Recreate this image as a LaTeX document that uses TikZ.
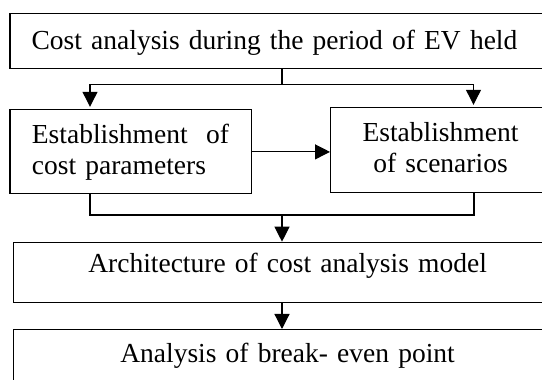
\documentclass[tikz,border=0pt]{standalone}
\usepackage{fontspec}
\setmainfont{Liberation Serif}
\usepackage{tikz}
\usetikzlibrary{arrows.meta, positioning, calc}

\begin{document}
\begin{tikzpicture}[
      x=1pt, y=1pt,
      box/.style={
          draw,
          rectangle,
          anchor=north west,
          align=left,
          font=\fontsize{27.5}{31}\selectfont,
          line width=1.2pt
      },
      arrow/.style={-{Triangle[width=15pt, length=15pt]}, line width=1.2pt},
      link/.style={line width=1.2pt}
  ]

  \clip (0,0) rectangle (542,380);

  % ══════════════════════════════
  % BOXES
  % ══════════════════════════════
  \node[box, inner xsep=21.7pt, inner ysep=0pt, text width=600pt,
        text height=36.3pt, text depth=19pt] (held) at (9.3,367)
      {Cost analysis during the period of EV held};

  \node[box, inner xsep=22pt, text width=197.7pt,
        minimum height=84pt] (params) at (9.3,270.7)
      {Establishment\ \ of\\cost parameters};

  \node[box, inner xsep=32pt, text width=300pt,
        minimum height=85pt] (scenarios) at (330,272.7)
      {\begin{tabular}{@{}c@{}}Establishment\\of scenarios\end{tabular}};

  \node[box, inner xsep=75pt, inner ysep=0pt, text width=500pt,
        text height=30pt, text depth=30pt] (model) at (12.7,138.3)
      {Architecture of cost analysis model};

  \node[box, inner xsep=107pt, inner ysep=0pt, text width=500pt,
        text height=32.7pt, text depth=40pt] (breakeven) at (12.7,51)
      {Analysis of break- even point};

  % ══════════════════════════════
  % FORK under the first box
  % ══════════════════════════════
  \coordinate (fork) at (282,295.7);

  \draw[link] (fork |- held.south) -- (fork);

  \draw[arrow, shorten >=2.5pt]
      (fork) -| ([xshift=80.7pt]params.north west);

  \draw[arrow, shorten >=2.5pt]
      (fork) -| ([xshift=143.5pt]scenarios.north west);

  \draw[arrow]
      (params.east) -- (params.east -| scenarios.west);

  % ══════════════════════════════
  % JOIN into the model
  % ══════════════════════════════
  \coordinate (join) at (282,165);

  \draw[link]
      ([xshift=80.7pt]params.south west) |- (join)
      -| ([xshift=144pt]scenarios.south west);

  \draw[arrow] (join) -- (join |- model.north);

  \draw[arrow] (join |- model.south) -- (join |- breakeven.north);

\end{tikzpicture}
\end{document}
